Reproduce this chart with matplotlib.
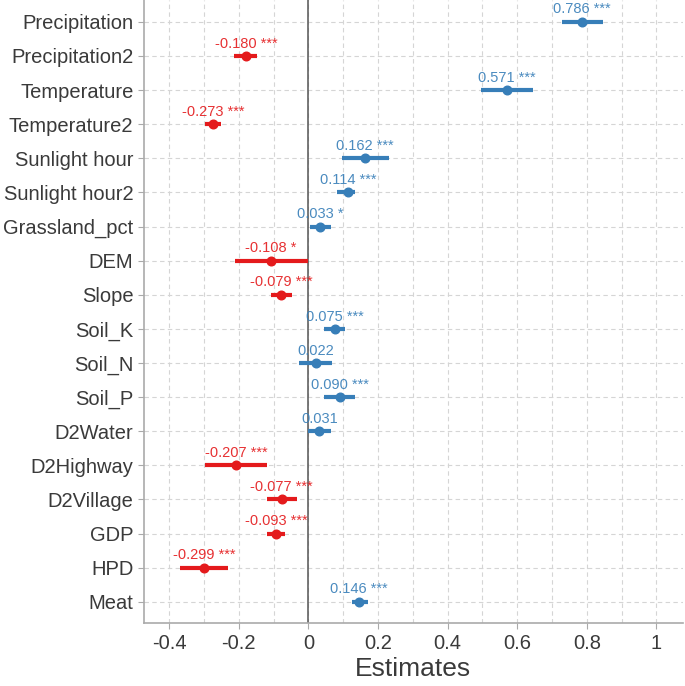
import numpy as np
import matplotlib.pyplot as plt
from matplotlib.ticker import MultipleLocator, FixedLocator

plt.rcParams['font.family'] = ['Liberation Sans', 'DejaVu Sans']

terms = ['Precipitation', 'Precipitation2', 'Temperature', 'Temperature2',
         'Sunlight hour', 'Sunlight hour2', 'Grassland_pct', 'DEM', 'Slope',
         'Soil_K', 'Soil_N', 'Soil_P', 'D2Water', 'D2Highway', 'D2Village',
         'GDP', 'HPD', 'Meat']
est = [0.786, -0.180, 0.571, -0.273, 0.162, 0.114, 0.033, -0.108, -0.079,
       0.075, 0.022, 0.090, 0.031, -0.207, -0.077, -0.093, -0.299, 0.146]
ci_low = [0.728, -0.214, 0.497, -0.296, 0.097, 0.082, 0.003, -0.210, -0.109,
          0.046, -0.026, 0.044, -0.002, -0.296, -0.120, -0.119, -0.370, 0.124]
ci_high = [0.846, -0.147, 0.646, -0.250, 0.232, 0.135, 0.065, -0.002, -0.046,
           0.106, 0.069, 0.135, 0.065, -0.119, -0.034, -0.068, -0.230, 0.170]
stars = ['***', '***', '***', '***', '***', '***', '*', '*', '***',
         '***', '', '***', '', '***', '***', '***', '***', '***']

red = '#E41A1C'
blue = '#377EB8'

fig = plt.figure(figsize=(6.85, 6.86), dpi=100)
ax = fig.add_axes([0.21, 0.092, 0.787, 0.908])

y = np.arange(len(terms))
for i in range(len(terms)):
    c = blue if est[i] > 0 else red
    ax.plot([ci_low[i], ci_high[i]], [y[i], y[i]], color=c, lw=3.0,
            solid_capstyle='butt', zorder=3)
    ax.plot(est[i], y[i], 'o', color=c, ms=6.2, zorder=4)
    lab = '%.3f' % est[i]
    if stars[i]:
        lab = lab + ' ' + stars[i]
    ax.annotate(lab, (est[i], y[i]), xytext=(0, 6), textcoords='offset points',
                ha='center', va='baseline', color=c, fontsize=10.5, alpha=0.9)

ax.axvline(0, color='#555555', lw=1.1, zorder=2)

ax.set_xlim(-0.473, 1.076)
ax.set_ylim(len(terms) - 1 + 0.62, -0.64)
ax.set_yticks(y)
ax.set_yticklabels(terms)
ax.xaxis.set_major_locator(FixedLocator([-0.4, -0.2, 0, 0.2, 0.4, 0.6, 0.8, 1.0]))
ax.xaxis.set_minor_locator(MultipleLocator(0.1))
ax.set_xticklabels(['-0.4', '-0.2', '0', '0.2', '0.4', '0.6', '0.8', '1'])

ax.grid(True, which='both', axis='x', color='#d5d5d5', ls=(0, (4, 3)), lw=0.8)
ax.grid(True, which='major', axis='y', color='#d5d5d5', ls=(0, (4, 3)), lw=0.8)
ax.set_axisbelow(True)

for s in ['top', 'right']:
    ax.spines[s].set_visible(False)
for s in ['left', 'bottom']:
    ax.spines[s].set_color('#aaaaaa')
    ax.spines[s].set_linewidth(1.2)

ax.tick_params(axis='both', which='major', colors='#aaaaaa', labelcolor='#3a3a3a',
               labelsize=14.5, length=4)
ax.tick_params(axis='x', which='major', pad=4)
ax.tick_params(axis='x', which='minor', length=0)
ax.set_xlabel('Estimates', fontsize=19, color='#3a3a3a', labelpad=3)

fig.savefig('out.png', dpi=100)
